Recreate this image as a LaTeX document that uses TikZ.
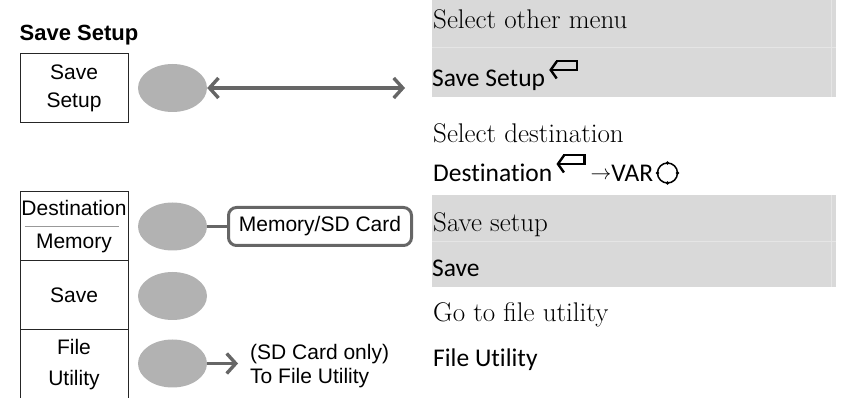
\documentclass[tikz,border=0pt]{standalone}
\usepackage{fontspec}
\newfontfamily\arialfont{Liberation Sans}
\newfontfamily\menufont[Ligatures=NoCommon]{Carlito}
\usetikzlibrary{arrows.meta,shapes.geometric}
\tikzset{
  keybox/.style={draw=black!85,line width=1pt,minimum width=108pt,minimum height=69pt,inner sep=0pt,align=center,font=\arialfont\fontsize{21}{28}\selectfont},
  softkey/.style={ellipse,fill=black!30,minimum width=69pt,minimum height=48pt,inner sep=0pt},
  optbox/.style={draw=black!60,line width=3pt,rounded corners=8pt,minimum width=183pt,minimum height=38pt,inner sep=0pt,font=\arialfont\fontsize{21}{24}\selectfont},
  greyline/.style={draw=black!60,line width=3.4pt},
  barb/.style={-{Straight Barb[length=9pt,width=20pt]}},
  serifnote/.style={anchor=base west,inner sep=0pt,font=\fontsize{27}{30}\selectfont},
  sansnote/.style={anchor=base west,inner sep=0pt,font=\menufont\fontsize{25.5}{30}\selectfont},
  retkey/.pic={\draw[line width=2.4pt,-{Straight Barb[length=6pt,width=17pt]}] (7pt,9pt) -- (28pt,9pt) -- (28pt,0pt) -- (0pt,0pt);}
}

\begin{document}
\begin{tikzpicture}[x=1pt,y=-1pt]
  \useasboundingbox (0,0) rectangle (847,398);
  \fill[black!15] (432,0) rectangle (836,97);
  \fill[black!15] (432,195) rectangle (836,287);
  \draw[black!10,line width=0.8pt] (432,47) -- (836,47);
  \draw[black!10,line width=0.8pt] (432,241) -- (836,241);
  \draw[black!10,line width=0.8pt] (831,0) -- (831,97);
  \draw[black!10,line width=0.8pt] (831,195) -- (831,287);
  \node[anchor=base west,inner sep=0pt,font=\arialfont\bfseries\fontsize{22}{26}\selectfont] (title) at (19.5,40.5) {Save Setup};
  \node[keybox] (bsave) at (74,88) {Save\\Setup};
  \node[keybox] (bdest) at (74,226.5) {Destination\\[5pt]Memory};
  \node[keybox] (bstore) at (74,295.5) {Save};
  \node[keybox] (bfile) at (74,364.5) {File\\[3pt]Utility};
  \draw[black!40,line width=1pt] ([xshift=5pt]bdest.west) -- ([xshift=-10pt]bdest.east);
  \node[softkey] (k1) at (172.5,88) {};
  \node[softkey] (k2) at (172.5,226.5) {};
  \node[softkey] (k3) at (172.5,296) {};
  \node[softkey] (k4) at (172.5,363.5) {};
  \coordinate (menuref) at (405,88);
  \draw[greyline,{Straight Barb[length=9pt,width=20pt]}-{Straight Barb[length=9pt,width=20pt]}] (k1.east) -- (menuref);
  \node[optbox] (dstopt) at (320,226.5) {Memory/SD Card};
  \draw[greyline] (k2) -- (dstopt);
  \node[anchor=west,align=left,inner sep=0pt,font=\arialfont\fontsize{21}{24}\selectfont] (sdnote) at (250,366) {(SD Card only)\\To File Utility};
  \draw[greyline,barb,shorten >=12pt] (k4.east) -- (k4.east -| sdnote.west);
  \node[serifnote] (mnother) at (433,28.5) {Select other menu};
  \node[sansnote] (mnsetup) at (432,87) {Save Setup};
  \pic at ([xshift=4pt,yshift=17pt]mnsetup.base east) {retkey};
  \node[serifnote] (mndest) at (433,143) {Select destination};
  \node[sansnote] (dstkey) at (433,182) {Destination};
  \pic at ([xshift=4pt,yshift=18pt]dstkey.base east) {retkey};
  \node[sansnote] (varkey) at ([xshift=38pt]dstkey.base east) {\raisebox{2pt}{\fontsize{22}{24}\selectfont$\rightarrow$}VAR};
  \coordinate (knob) at ([xshift=14pt,yshift=9pt]varkey.base east);
  \draw[line width=1.5pt] (knob) circle (10pt);
  \foreach \a in {0,90,180,270}
    \fill (knob) ++(\a:10pt) circle (1.8pt);
  \node[serifnote] (mnsave) at (433,231.7) {Save setup};
  \node[sansnote] (mnstore) at (432,276.7) {Save};
  \node[serifnote] (mnfile) at (433,321.7) {Go to file utility};
  \node[sansnote] (mnutil) at (433,366.7) {File Utility};
\end{tikzpicture}
\end{document}
